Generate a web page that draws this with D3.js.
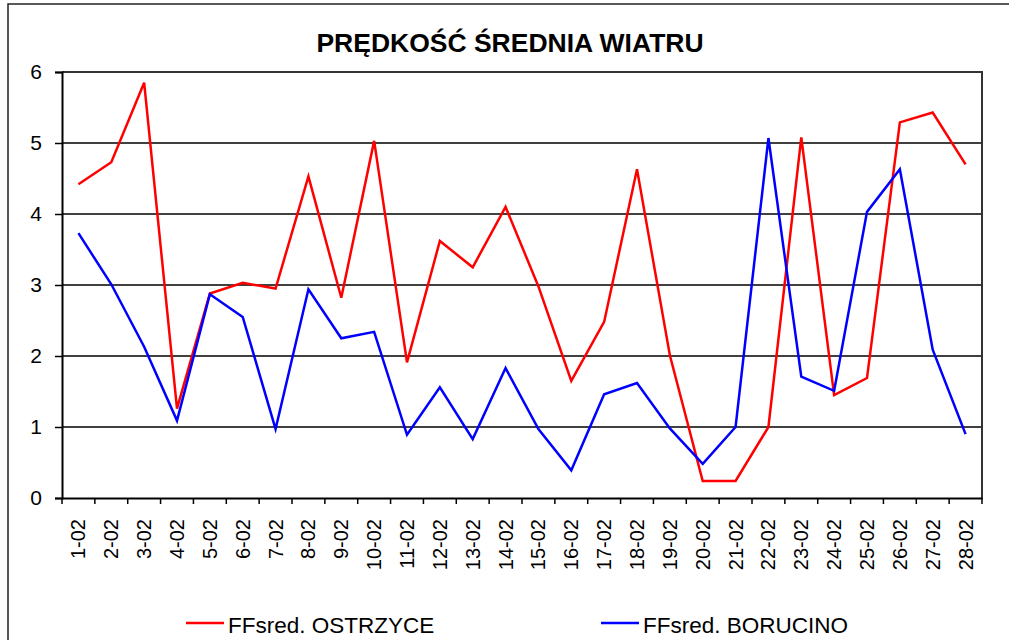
<!DOCTYPE html>
<html>
<head>
<meta charset="utf-8">
<script src="https://cdn.jsdelivr.net/npm/d3@7"></script>
<style>
  body { margin: 0; background: #fff; }
  svg { display: block; font-family: "Liberation Sans", Arial, sans-serif; }
</style>
</head>
<body>
<svg id="chart" width="1009" height="640"></svg>
<script>
const days = ["1-02","2-02","3-02","4-02","5-02","6-02","7-02","8-02","9-02","10-02","11-02","12-02","13-02","14-02","15-02","16-02","17-02","18-02","19-02","20-02","21-02","22-02","23-02","24-02","25-02","26-02","27-02","28-02"];
const ostrzyce = [4.42,4.73,5.85,1.26,2.88,3.03,2.95,4.53,2.82,5.03,1.91,3.62,3.25,4.10,2.98,1.65,2.48,4.63,2.01,0.24,0.24,1.00,5.08,1.45,1.69,5.29,5.43,4.70];
const borucino = [3.73,3.01,2.13,1.09,2.87,2.55,0.97,2.94,2.25,2.34,0.89,1.56,0.83,1.83,0.97,0.39,1.46,1.62,0.98,0.48,1.00,5.07,1.71,1.51,4.03,4.63,2.09,0.90];
const yTicks = [0,1,2,3,4,5,6];
const seriesNames = ["FFsred. OSTRZYCE","FFsred. BORUCINO"];
const seriesColors = ["#ff0000","#0000ff"];
const title = "PRĘDKOŚĆ ŚREDNIA WIATRU";

const svg = d3.select("#chart");
const L = 62, R = 982, T = 72, B = 498;

// outer frame
svg.append("rect").attr("x", 8).attr("y", 4).attr("width", 1020).attr("height", 660)
  .attr("fill", "none").attr("stroke", "#222").attr("stroke-width", 1.5);

svg.append("text").attr("x", 510).attr("y", 52).attr("text-anchor", "middle")
  .attr("font-size", 26.5).attr("font-weight", "bold").text(title);

const x = d3.scaleBand().domain(days).range([L, R]);
const y = d3.scaleLinear().domain([0, 6]).range([B, T]);

// gridlines
svg.append("g").selectAll("line").data(yTicks.filter(d => d > 0 && d < 6)).join("line")
  .attr("x1", L).attr("x2", R).attr("y1", d => y(d)).attr("y2", d => y(d))
  .attr("stroke", "#000").attr("stroke-width", 1.3);

// plot border top/right
svg.append("path").attr("d", `M${L},${T}H${R}V${B}`).attr("fill", "none")
  .attr("stroke", "#333").attr("stroke-width", 2);

// y axis
const yAxis = svg.append("g").attr("transform", `translate(${L},0)`)
  .call(d3.axisLeft(y).tickValues(yTicks).tickSize(7).tickPadding(13).tickFormat(d3.format("d")));
yAxis.select(".domain").attr("stroke", "#000").attr("stroke-width", 2);
yAxis.selectAll(".tick line").attr("stroke", "#000").attr("stroke-width", 1.5);
yAxis.selectAll("text").attr("font-size", 21).attr("fill", "#000").attr("font-family", "Liberation Sans, Arial, sans-serif");

// x axis
const xAxis = svg.append("g").attr("transform", `translate(0,${B})`)
  .call(d3.axisBottom(x).tickSize(0).tickFormat(""));
xAxis.select(".domain").attr("stroke", "#000").attr("stroke-width", 2);
// boundary ticks
const bounds = days.map(d => x(d)).concat([R]);
svg.append("g").selectAll("line").data(bounds).join("line")
  .attr("x1", d => d).attr("x2", d => d).attr("y1", B).attr("y2", B + 6)
  .attr("stroke", "#000").attr("stroke-width", 1.5);
svg.append("g").selectAll("text").data(days).join("text")
  .attr("transform", d => `translate(${x(d) + x.bandwidth() / 2},519) rotate(-90)`)
  .attr("text-anchor", "end").attr("dy", "0.35em")
  .attr("font-size", 20).attr("fill", "#000").text(d => d);

// lines
const line = d3.line().x((d, i) => x(days[i]) + x.bandwidth() / 2).y(d => y(d));
[ostrzyce, borucino].forEach((s, k) => {
  svg.append("path").datum(s).attr("d", line).attr("fill", "none")
    .attr("stroke", seriesColors[k]).attr("stroke-width", 2.5).attr("stroke-linejoin", "miter");
});

// legend
const legX = [186, 601];
seriesNames.forEach((n, k) => {
  const g = svg.append("g");
  g.append("line").attr("x1", legX[k]).attr("x2", legX[k] + 38).attr("y1", 623).attr("y2", 623)
    .attr("stroke", seriesColors[k]).attr("stroke-width", 2.5);
  g.append("text").attr("x", legX[k] + 42).attr("y", 633).attr("font-size", 22.5).attr("fill", "#000").text(n);
});
</script>
</body>
</html>
